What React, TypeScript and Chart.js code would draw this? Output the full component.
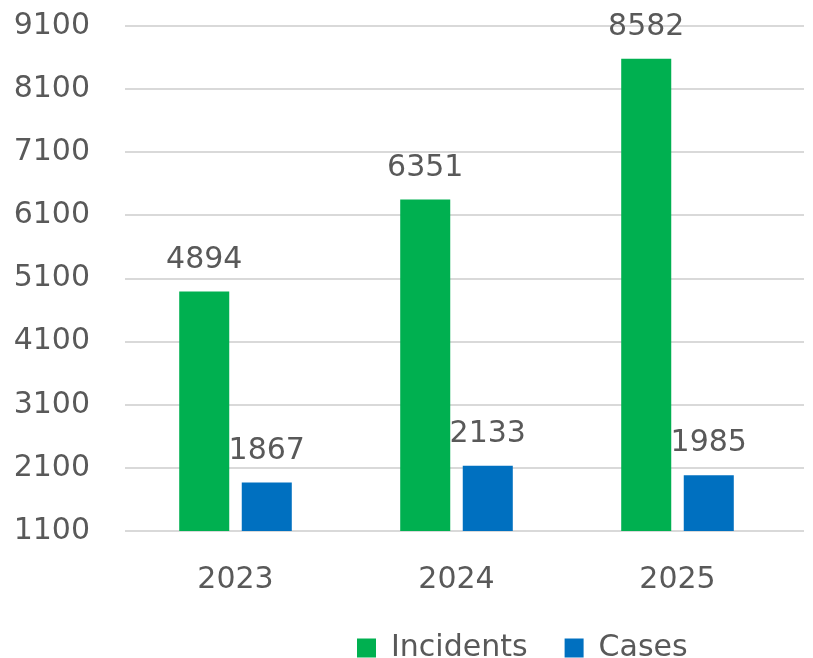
import React, { useEffect, useRef } from "react";
import { Chart, registerables } from "chart.js";

Chart.register(...registerables);

const categories = ["2023", "2024", "2025"];
const incidents = [4894, 6351, 8582];
const cases = [1867, 2133, 1985];
const yMin = 1100;
const yMax = 9100;
const yStep = 1000;

const FONT = "'DejaVu Sans', sans-serif";
const TEXT = "#595959";

const gridPlugin = {
  id: "extGrid",
  beforeDatasetsDraw(chart: any) {
    const { ctx, chartArea } = chart;
    const y = chart.scales.y;
    ctx.save();
    ctx.strokeStyle = "#d9d9d9";
    ctx.lineWidth = 2;
    y.ticks.forEach((t: any) => {
      const py = Math.round(y.getPixelForValue(t.value));
      ctx.beginPath();
      ctx.moveTo(chartArea.left, py);
      ctx.lineTo(chart.width - 9, py);
      ctx.stroke();
    });
    ctx.restore();
  },
};

const labelPlugin = {
  id: "valLabels",
  afterDatasetsDraw(chart: any) {
    const { ctx } = chart;
    ctx.save();
    ctx.font = `30px ${FONT}`;
    ctx.fillStyle = TEXT;
    ctx.textAlign = "center";
    ctx.textBaseline = "alphabetic";
    chart.data.datasets.forEach((ds: any, i: number) => {
      const meta = chart.getDatasetMeta(i);
      meta.data.forEach((el: any, j: number) => {
        ctx.fillText(String(ds.data[j]), el.x, el.y - 24);
      });
    });
    ctx.restore();
  },
};

const legendShift = {
  id: "legendShift",
  beforeLayout(chart: any) {
    const lg = chart.legend;
    if (!lg || lg.__patched) return;
    const orig = lg.fit.bind(lg);
    lg.fit = () => {
      orig();
      lg.height = 50;
    };
    lg.__patched = true;
  },
  afterLayout(chart: any) {
    const lg = chart.legend;
    if (!lg) return;
    const pad = lg.options.labels.padding;
    lg.left = 357 - pad;
    lg.right = chart.width;
    lg.top = 644 - 11 - pad;
    lg.bottom = chart.height;
  },
};

export default function App() {
  const ref = useRef<HTMLCanvasElement>(null);
  useEffect(() => {
    document.body.style.margin = "0";
    const chart = new Chart(ref.current!, {
      type: "bar",
      data: {
        labels: categories,
        datasets: [
          {
            label: "Incidents",
            data: incidents,
            backgroundColor: "#00B050",
            borderWidth: 0,
            categoryPercentage: 0.566,
            barPercentage: 0.8,
          },
          {
            label: "Cases",
            data: cases,
            backgroundColor: "#0070C0",
            borderWidth: 0,
            categoryPercentage: 0.566,
            barPercentage: 0.8,
          },
        ],
      },
      options: {
        animation: false,
        responsive: false,
        maintainAspectRatio: false,
        layout: { padding: { left: 0, right: 25, top: 26, bottom: 0 } },
        scales: {
          x: {
            grid: { display: false },
            border: { display: false },
            ticks: {
              color: TEXT,
              font: { family: FONT, size: 30 },
              padding: 23,
            },
            afterFit: (s: any) => {
              s.height = 77;
            },
          },
          y: {
            min: yMin,
            max: yMax,
            grid: { display: false, drawTicks: false },
            border: { display: false },
            ticks: {
              stepSize: yStep,
              color: TEXT,
              font: { family: FONT, size: 30 },
              padding: 35,
              callback: (v: any) => String(v),
            },
            afterFit: (s: any) => {
              s.width = 125;
              s.paddingTop = 0;
              s.paddingBottom = 0;
            },
          },
        },
        plugins: {
          tooltip: { enabled: false },
          legend: {
            position: "bottom",
            align: "start",
            labels: {
              boxWidth: 19,
              boxHeight: 19,
              padding: 37,
              color: TEXT,
              font: { family: FONT, size: 30 },
            },
          },
        },
      },
      plugins: [gridPlugin, labelPlugin, legendShift],
    });
    return () => chart.destroy();
  }, []);
  return (
    <div style={{ position: "absolute", left: 0, top: 0, width: 813, height: 658, background: "#fff" }}>
      <canvas ref={ref} width={813} height={658} style={{ width: 813, height: 658 }} />
    </div>
  );
}
